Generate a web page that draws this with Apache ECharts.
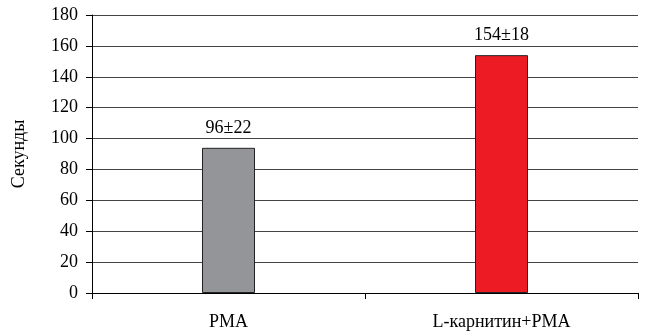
<!DOCTYPE html>
<html><head><meta charset="utf-8">
<script src="https://cdn.jsdelivr.net/npm/echarts@6/dist/echarts.min.js"></script>
<style>html,body{margin:0;padding:0;background:#fff}#c{width:647px;height:336px}</style>
</head><body><div id="c"></div>
<script>
var categories = ['PMA', 'L-карнитин+PMA'];
var values = [94, 154];
var labels = ['96±22', '154±18'];
var colors = ['#939598', '#ED1C24'];
var yTicks = [0, 20, 40, 60, 80, 100, 120, 140, 160, 180];

var font = '"Liberation Serif","Times New Roman",serif';
var chart = echarts.init(document.getElementById('c'), null, {renderer: 'canvas'});
chart.setOption({
  animation: false,
  grid: {left: 92, right: 9, top: 15, bottom: 43},
  xAxis: {
    type: 'category', data: categories,
    axisLine: {lineStyle: {color: '#000', width: 1}},
    axisTick: {show: true, length: 6, lineStyle: {color: '#000'}},
    axisLabel: {color: '#000', fontFamily: font, fontSize: 18, margin: 20}
  },
  yAxis: {
    type: 'value', min: 0, max: 180, interval: 20,
    name: 'Секунды', nameLocation: 'middle', nameGap: 64,
    nameTextStyle: {color: '#000', fontFamily: font, fontSize: 18},
    axisLine: {show: true, lineStyle: {color: '#000'}},
    axisTick: {show: true, length: 6, lineStyle: {color: '#000'}},
    axisLabel: {color: '#000', fontFamily: font, fontSize: 18, margin: 14},
    splitLine: {lineStyle: {color: '#444', width: 1}}
  },
  series: [{
    type: 'bar', barWidth: 53,
    data: values.map(function (v, i) {
      return {value: v, itemStyle: {color: colors[i], borderColor: '#222', borderWidth: 1}};
    }),
    label: {
      show: true, position: 'top', distance: 11, color: '#000',
      fontFamily: font, fontSize: 18,
      formatter: function (p) { return labels[p.dataIndex]; }
    }
  }]
});
</script></body></html>
